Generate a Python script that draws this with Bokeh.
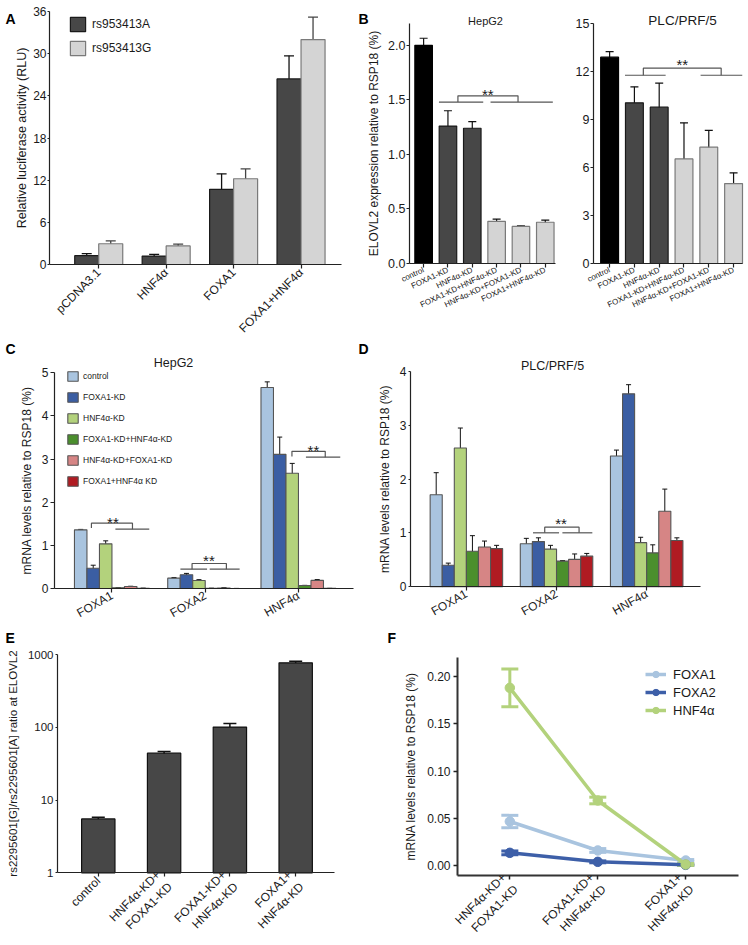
import numpy as np
from bokeh.plotting import figure
from bokeh.models import (Range1d, FixedTicker, ColumnDataSource, Whisker, TeeHead,
                          Legend, LegendItem, Label, PrintfTickFormatter)
from bokeh.layouts import column, row
from bokeh.embed import file_html
from bokeh.resources import INLINE

FONT = "Liberation Sans"
TXT = "#1a1a1a"

# ---------------- Panel A data ----------------
a_groups = ["pCDNA3.1", "HNF4α", "FOXA1", "FOXA1+HNF4α"]
a_series = ["rs953413A", "rs953413G"]
a_rsA = [1.25, 1.2, 10.7, 26.4]
a_rsA_err = [0.3, 0.25, 2.2, 3.3]
a_rsG = [2.95, 2.65, 12.2, 32.0]
a_rsG_err = [0.4, 0.25, 1.4, 3.2]
a_yticks = [0, 6, 12, 18, 24, 30, 36]

# ---------------- Panel B data ----------------
b_conditions = ["control", "FOXA1-KD", "HNF4α-KD", "FOXA1-KD+HNF4α-KD",
                "HNF4α-KD+FOXA1-KD", "FOXA1+HNF4α-KD"]
b_hep = [2.0, 1.26, 1.24, 0.387, 0.34, 0.378]
b_hep_err = [0.065, 0.14, 0.06, 0.02, 0.005, 0.02]
b_plc = [12.88, 10.03, 9.76, 6.53, 7.26, 4.99]
b_plc_err = [0.35, 1.0, 1.5, 2.25, 1.05, 0.67]
b_hep_yticks = [0, 0.5, 1.0, 1.5, 2.0]
b_plc_yticks = [0, 3, 6, 9, 12, 15]

# ---------------- Panel C / D data ----------------
cd_genes = ["FOXA1", "FOXA2", "HNF4α"]
cd_conditions = ["control", "FOXA1-KD", "HNF4α-KD", "FOXA1-KD+HNF4α-KD",
                 "HNF4α-KD+FOXA1-KD", "FOXA1+HNF4α KD"]
c_control = [1.36, 0.24, 4.66]
c_control_err = [0.01, 0.015, 0.13]
c_foxa1kd = [0.47, 0.32, 3.11]
c_foxa1kd_err = [0.07, 0.03, 0.40]
c_hnf4akd = [1.035, 0.185, 2.67]
c_hnf4akd_err = [0.07, 0.02, 0.23]
c_foxa1kd_hnf4akd = [0.016, 0.004, 0.069]
c_foxa1kd_hnf4akd_err = [0.002, 0.001, 0.004]
c_hnf4akd_foxa1kd = [0.046, 0.013, 0.188]
c_hnf4akd_foxa1kd_err = [0.006, 0.002, 0.02]
c_foxa1_hnf4akd = [0.005, 0.001, 0.002]
c_foxa1_hnf4akd_err = [0.001, 0.0005, 0.0005]
c_yticks = [0, 1, 2, 3, 4, 5]

d_control = [1.71, 0.80, 2.43]
d_control_err = [0.41, 0.10, 0.11]
d_foxa1kd = [0.40, 0.84, 3.585]
d_foxa1kd_err = [0.04, 0.07, 0.17]
d_hnf4akd = [2.58, 0.70, 0.82]
d_hnf4akd_err = [0.37, 0.07, 0.10]
d_foxa1kd_hnf4akd = [0.66, 0.477, 0.63]
d_foxa1kd_hnf4akd_err = [0.29, 0.01, 0.15]
d_hnf4akd_foxa1kd = [0.74, 0.51, 1.405]
d_hnf4akd_foxa1kd_err = [0.11, 0.10, 0.41]
d_foxa1_hnf4akd = [0.71, 0.57, 0.86]
d_foxa1_hnf4akd_err = [0.06, 0.05, 0.05]
d_yticks = [0, 1, 2, 3, 4]

# ---------------- Panel E data ----------------
e_conditions = ["control", "HNF4α-KD+\nFOXA1-KD", "FOXA1-KD+\nHNF4α-KD", "FOXA1+\nHNF4α-KD"]
e_ratio = [5.5, 44.1, 100.5, 769]
e_upper = [5.8, 46.5, 112.6, 809]
e_lower = [5.25, 42.0, 88.0, 722]
e_yticks = [1, 10, 100, 1000]

# ---------------- Panel F data ----------------
f_conditions = ["HNF4α-KD+\nFOXA1-KD", "FOXA1-KD+\nHNF4α-KD", "FOXA1+\nHNF4α-KD"]
f_genes = ["FOXA1", "FOXA2", "HNF4α"]
f_foxa1 = [0.0468, 0.0162, 0.0056]
f_foxa1_err = [0.0065, 0.002, 0.001]
f_foxa2 = [0.0137, 0.0042, 0.001]
f_foxa2_err = [0.002, 0.001, 0.0005]
f_hnf4a = [0.188, 0.069, 0.0014]
f_hnf4a_err = [0.02, 0.0035, 0.001]
f_yticks = [0.0, 0.05, 0.10, 0.15, 0.20]

# ---------------- significance brackets (data units) ----------------
# (left line, left leg bottom, right line, right base y, legs x, top y, star position)
b_hep_bracket = [((0.63, 2.45), 1.48, (2.75, 5.31), 1.48, (1.41, 3.88), 1.537, (2.64, 1.588))]
b_plc_bracket = [((0.62, 2.26), 11.75, (3.67, 5.35), 11.75, (1.36, 4.5), 12.19, (2.93, 12.67))]
c_brackets = [
    (None, 1.40, (0.037, 0.40), 1.375, (-0.22, 0.22), 1.515, (0.01, 1.63)),
    ((0.734, 1.02), 0.448, (1.048, 1.369), 0.448, (0.859, 1.227), 0.58, (1.04, 0.742)),
    (None, 3.06, (2.08, 2.448), 3.045, (1.93, 2.287), 3.18, (2.16, 3.30)),
]
d_brackets = [((0.739, 1.028), 1.003, (1.065, 1.397), 1.003, (0.869, 1.25), 1.108, (1.05, 1.245))]

CD_COLORS = ["#a9c4df", "#3b5ea3", "#b3d27c", "#4b8f2d", "#d68585", "#b01b22"]
F_COLORS = ["#a9c4df", "#3d5fa8", "#b3d27c"]


def lin_range(c0, c1, p0, v0, p1, v1):
    """Range so that canvas pixels c0..c1 show values v0 at pixel p0 and v1 at p1."""
    s = (p1 - p0) / (v1 - v0)
    a = v0 + (c0 - p0) / s
    b = v0 + (c1 - p0) / s
    return (min(a, b), max(a, b))


ORIGINS = {}


def fig(box, xr, yr, xb, yb, y_log=False):
    x0, y0, w, h = box
    p = figure(width=w, height=h, x_range=Range1d(*xr), y_range=Range1d(*yr),
               output_backend="svg", toolbar_location=None, tools="", title=None,
               y_axis_type="log" if y_log else "linear",
               min_border_left=0, min_border_right=0, min_border_top=0, min_border_bottom=0)
    ORIGINS[id(p)] = (x0, y0)
    p.frame_align = False
    p.xgrid.visible = False
    p.ygrid.visible = False
    p.outline_line_color = None
    xa, ya = p.xaxis[0], p.yaxis[0]
    xa.fixed_location = yb[0]
    xa.bounds = xb
    ya.fixed_location = xb[0]
    ya.bounds = yb
    for ax in (xa, ya):
        ax.axis_line_color = "#222222"
        ax.axis_line_width = 1.2
        ax.major_tick_line_color = "#222222"
        ax.major_tick_line_width = 1.2
        ax.major_tick_in = 0
        ax.major_tick_out = 3
        ax.minor_tick_line_color = None
        ax.major_label_text_font = FONT
        ax.major_label_text_font_size = "12px"
        ax.major_label_text_color = TXT
        ax.axis_label_text_font = FONT
        ax.axis_label_text_font_style = "normal"
        ax.axis_label_text_font_size = "12px"
        ax.axis_label_text_color = TXT
    return p


def place(p, text, px, py, size, bold=False, align="left"):
    x0, y0 = ORIGINS[id(p)]
    p.add_layout(Label(x=p.x_range.start, y=p.y_range.end, x_offset=px - x0,
                       y_offset=-(py - y0), text=text, text_font=FONT,
                       text_font_style="bold" if bold else "normal",
                       text_font_size=size, text_color="#000000" if bold else TXT,
                       text_align=align, text_baseline="alphabetic"))


def set_xcats(p, labels, angle, size):
    ax = p.xaxis[0]
    ax.ticker = FixedTicker(ticks=list(range(len(labels))))
    ax.major_label_overrides = {i: t for i, t in enumerate(labels)}
    ax.major_label_orientation = angle
    ax.major_label_text_font_size = size
    ax.major_tick_out = 4
    ax.major_label_standoff = 2


def whiskers(p, x, val, err, color, head, lw):
    src = ColumnDataSource(dict(x=list(x), up=[v + e for v, e in zip(val, err)],
                                lo=[v - e for v, e in zip(val, err)]))
    p.add_layout(Whisker(source=src, base="x", upper="up", lower="lo", dimension="height",
                         line_color=color, line_width=lw,
                         upper_head=TeeHead(size=head, line_color=color, line_width=lw),
                         lower_head=TeeHead(size=head, line_color=color, line_width=lw)))


def brackets(p, specs, star_size="15px"):
    for left, lbot, right, rbot, legs, top, star in specs:
        xs, ys = [], []
        if left is not None:
            xs.append(list(left)); ys.append([lbot, lbot])
        xs.append(list(right)); ys.append([rbot, rbot])
        xs.append([legs[0], legs[0], legs[1], legs[1]])
        ys.append([lbot, top, top, rbot])
        p.multi_line(xs=xs, ys=ys, line_color="#555555", line_width=1.2)
        p.add_layout(Label(x=star[0], y=star[1], y_offset=-4, text="**", text_font=FONT,
                           text_font_size=star_size, text_color=TXT, text_align="center",
                           text_baseline="middle"))


def legend_style(lg, glyph_w, glyph_h, spacing, size, standoff):
    lg.border_line_color = None
    lg.background_fill_alpha = 0
    lg.padding = 0
    lg.margin = 0
    lg.spacing = spacing
    lg.glyph_width = glyph_w
    lg.glyph_height = glyph_h
    lg.label_height = glyph_h
    lg.label_standoff = standoff
    lg.label_text_font = FONT
    lg.label_text_font_size = size
    lg.label_text_color = TXT


# ================= Panel A =================
boxA = (0, 0, 356, 334)
pA = fig(boxA, lin_range(0, 356, 49, -0.73, 341, 3.6), lin_range(0, 334, 264, 0, 11, 36),
         (-0.73, 3.6), (0, 36))
xa = np.arange(len(a_groups))
bw_a = 0.356
rA = pA.vbar(x=xa - bw_a / 2, top=a_rsA, width=bw_a, bottom=0, fill_color="#474747",
             line_color="#1a1a1a", line_width=1.2)
rG = pA.vbar(x=xa + bw_a / 2, top=a_rsG, width=bw_a, bottom=0, fill_color="#d4d4d4",
             line_color="#7a7a7a", line_width=1.2)
whiskers(pA, xa - bw_a / 2, a_rsA, a_rsA_err, "#111111", 10, 1.3)
whiskers(pA, xa + bw_a / 2, a_rsG, a_rsG_err, "#444444", 10, 1.3)
set_xcats(pA, a_groups, np.pi / 4, "12px")
pA.yaxis[0].ticker = FixedTicker(ticks=a_yticks)
pA.yaxis[0].major_tick_out = 2
pA.yaxis[0].major_label_standoff = 1
pA.yaxis[0].axis_label = "Relative luciferase activity (RLU)"
pA.yaxis[0].axis_label_text_font_size = "12.5px"
pA.yaxis[0].axis_label_standoff = 1
lgA = Legend(items=[LegendItem(label=a_series[0], renderers=[rA]),
                    LegendItem(label=a_series[1], renderers=[rG])], location=(68, 277))
legend_style(lgA, 19, 18, 6, "12px", 5)
pA.add_layout(lgA)
place(pA, "A", 5, 18, "14px", bold=True)

# ================= Panel B =================
xb = np.arange(len(b_conditions))
b_fill = ["#000000", "#474747", "#474747", "#d4d4d4", "#d4d4d4", "#d4d4d4"]
b_line = ["#000000", "#1a1a1a", "#1a1a1a", "#7a7a7a", "#7a7a7a", "#7a7a7a"]

boxB1 = (356, 0, 204, 334)
pB1 = fig(boxB1, lin_range(356, 560, 409, -0.58, 555, 5.42),
          lin_range(0, 334, 263, 0, 23, 2.2), (-0.58, 5.42), (0, 2.2))
pB1.vbar(x=xb, top=b_hep, width=0.72, bottom=0, fill_color=b_fill, line_color=b_line,
         line_width=1.2)
whiskers(pB1, xb, b_hep, b_hep_err, "#111111", 8, 1.2)
brackets(pB1, b_hep_bracket)
set_xcats(pB1, b_conditions, 0.44, "8px")
pB1.yaxis[0].ticker = FixedTicker(ticks=b_hep_yticks)
pB1.yaxis[0].formatter = PrintfTickFormatter(format="%.1f")
pB1.yaxis[0].major_label_text_font_size = "12.5px"
pB1.yaxis[0].major_label_standoff = 1
pB1.yaxis[0].axis_label = "ELOVL2 expression relative to RSP18 (%)"
pB1.yaxis[0].axis_label_standoff = 4
place(pB1, "B", 358, 18, "14px", bold=True)
place(pB1, "HepG2", 485, 20, "11px", align="center")

boxB2 = (560, 0, 188, 334)
pB2 = fig(boxB2, lin_range(560, 748, 593, -0.65, 742, 5.36),
          lin_range(0, 334, 263, 0, 22.7, 15), (-0.65, 5.36), (0, 15))
pB2.vbar(x=xb, top=b_plc, width=0.72, bottom=0, fill_color=b_fill, line_color=b_line,
         line_width=1.2)
whiskers(pB2, xb, b_plc, b_plc_err, "#111111", 8, 1.2)
brackets(pB2, b_plc_bracket)
set_xcats(pB2, b_conditions, 0.44, "8px")
pB2.yaxis[0].ticker = FixedTicker(ticks=b_plc_yticks)
pB2.yaxis[0].major_label_text_font_size = "12.5px"
pB2.yaxis[0].major_label_standoff = 1
place(pB2, "PLC/PRF/5", 682, 20, "13.5px", align="center")

# ================= Panels C and D =================
xg = np.arange(len(cd_genes))
bw_cd = 0.134


def grouped(p, series, errs, legend_loc=None):
    rends = []
    for i, (vals, err) in enumerate(zip(series, errs)):
        xs = xg + (i - 2.5) * bw_cd
        r = p.vbar(x=xs, top=vals, width=bw_cd, bottom=0, fill_color=CD_COLORS[i],
                   line_color="#555555", line_width=1.1)
        rends.append(r)
        whiskers(p, xs, vals, err, "#111111", 5, 1.0)
    if legend_loc is not None:
        lg = Legend(items=[LegendItem(label=cd_conditions[i], renderers=[rends[i]])
                           for i in range(len(rends))], location=legend_loc)
        legend_style(lg, 13, 12, 9, "8.5px", 4)
        p.add_layout(lg)


boxC = (0, 334, 356, 288)
pC = fig(boxC, lin_range(0, 356, 54, -0.616, 353, 2.59),
         lin_range(334, 622, 588, 0, 372.3, 5), (-0.616, 2.59), (0, 5))
grouped(pC, [c_control, c_foxa1kd, c_hnf4akd, c_foxa1kd_hnf4akd, c_hnf4akd_foxa1kd, c_foxa1_hnf4akd],
        [c_control_err, c_foxa1kd_err, c_hnf4akd_err, c_foxa1kd_hnf4akd_err,
         c_hnf4akd_foxa1kd_err, c_foxa1_hnf4akd_err], legend_loc=(66, 135))
brackets(pC, c_brackets)
set_xcats(pC, cd_genes, 0.52, "12px")
pC.yaxis[0].ticker = FixedTicker(ticks=c_yticks)
pC.yaxis[0].major_tick_out = 4
pC.yaxis[0].major_label_standoff = 2
pC.yaxis[0].axis_label = "mRNA levels relative to RSP18 (%)"
pC.yaxis[0].axis_label_standoff = 5
place(pC, "C", 5, 348, "14px", bold=True)
place(pC, "HepG2", 173, 362, "12.5px", align="center")

boxD = (356, 334, 392, 288)
pD = fig(boxD, lin_range(356, 748, 410, -0.62, 700, 2.597),
         lin_range(334, 622, 586.3, 0, 371, 4), (-0.62, 2.597), (0, 4))
grouped(pD, [d_control, d_foxa1kd, d_hnf4akd, d_foxa1kd_hnf4akd, d_hnf4akd_foxa1kd, d_foxa1_hnf4akd],
        [d_control_err, d_foxa1kd_err, d_hnf4akd_err, d_foxa1kd_hnf4akd_err,
         d_hnf4akd_foxa1kd_err, d_foxa1_hnf4akd_err])
brackets(pD, d_brackets)
set_xcats(pD, cd_genes, 0.52, "12px")
pD.yaxis[0].ticker = FixedTicker(ticks=d_yticks)
pD.yaxis[0].major_tick_out = 2
pD.yaxis[0].major_label_standoff = 2
pD.yaxis[0].axis_label = "mRNA levels relative to RSP18 (%)"
pD.yaxis[0].axis_label_standoff = 5
place(pD, "D", 358, 348, "14px", bold=True)
place(pD, "PLC/PRF/5", 552, 365, "12.5px", align="center")

# ================= Panel E =================
xe = np.arange(len(e_conditions))
boxE = (0, 622, 370, 321)
ey0, ey1 = lin_range(622, 943, 872.3, 0, 654, 3)
pE = fig(boxE, lin_range(0, 370, 57, -0.62, 334, 3.59), (10 ** ey0, 10 ** ey1),
         (-0.62, 3.59), (1, 1000), y_log=True)
pE.vbar(x=xe, top=e_ratio, width=0.507, bottom=1, fill_color="#474747",
        line_color="#111111", line_width=1.2)
srcE = ColumnDataSource(dict(x=list(xe), up=e_upper, lo=e_lower))
pE.add_layout(Whisker(source=srcE, base="x", upper="up", lower="lo", line_color="#111111",
                      line_width=1.5,
                      upper_head=TeeHead(size=13, line_color="#111111", line_width=1.5),
                      lower_head=TeeHead(size=13, line_color="#111111", line_width=1.5)))
set_xcats(pE, e_conditions, np.pi / 4, "12px")
pE.yaxis[0].ticker = FixedTicker(ticks=e_yticks)
pE.yaxis[0].formatter = PrintfTickFormatter(format="%d")
pE.yaxis[0].major_label_text_font_size = "11.5px"
pE.yaxis[0].major_tick_out = 2
pE.yaxis[0].major_label_standoff = 2
pE.yaxis[0].axis_label = "rs2295601[G]/rs2295601[A] ratio at ELOVL2"
pE.yaxis[0].axis_label_text_font_size = "11.5px"
pE.yaxis[0].axis_label_standoff = 6
place(pE, "E", 5, 637, "14px", bold=True)

# ================= Panel F =================
xf = np.arange(len(f_conditions))
boxF = (370, 622, 378, 321)
pF = fig(boxF, lin_range(370, 748, 457, -0.595, 738, 2.6),
         lin_range(622, 943, 865.3, 0, 676, 0.2), (-0.595, 2.6), (-0.0102, 0.2197))
items = []
for name, vals, err, col in zip(f_genes, [f_foxa1, f_foxa2, f_hnf4a],
                                [f_foxa1_err, f_foxa2_err, f_hnf4a_err], F_COLORS):
    ln = pF.line(x=xf, y=vals, line_color=col, line_width=3.5)
    whiskers(pF, xf, vals, err, col, 17, 3)
    sc = pF.scatter(x=xf, y=vals, marker="circle", size=9.5, fill_color=col, line_color=col)
    items.append(LegendItem(label=name, renderers=[ln, sc]))
lgF = Legend(items=items, location=(275, 225))
legend_style(lgF, 21, 16, 2, "13px", 7)
pF.add_layout(lgF)
set_xcats(pF, f_conditions, np.pi / 4, "12px")
pF.yaxis[0].ticker = FixedTicker(ticks=f_yticks)
pF.yaxis[0].formatter = PrintfTickFormatter(format="%.2f")
pF.yaxis[0].major_tick_out = 4
pF.yaxis[0].major_label_standoff = 3
pF.yaxis[0].axis_label = "mRNA levels relative to RSP18 (%)"
pF.yaxis[0].axis_label_standoff = 6
for ax in (pF.xaxis[0], pF.yaxis[0]):
    ax.axis_line_width = 2
    ax.axis_line_color = "#333333"
    ax.major_tick_line_width = 1.5
place(pF, "F", 387, 637, "14px", bold=True)

layout = column(row(pA, pB1, pB2), row(pC, pD), row(pE, pF))

with open("out.html", "w") as f:
    f.write(file_html(layout, INLINE))
